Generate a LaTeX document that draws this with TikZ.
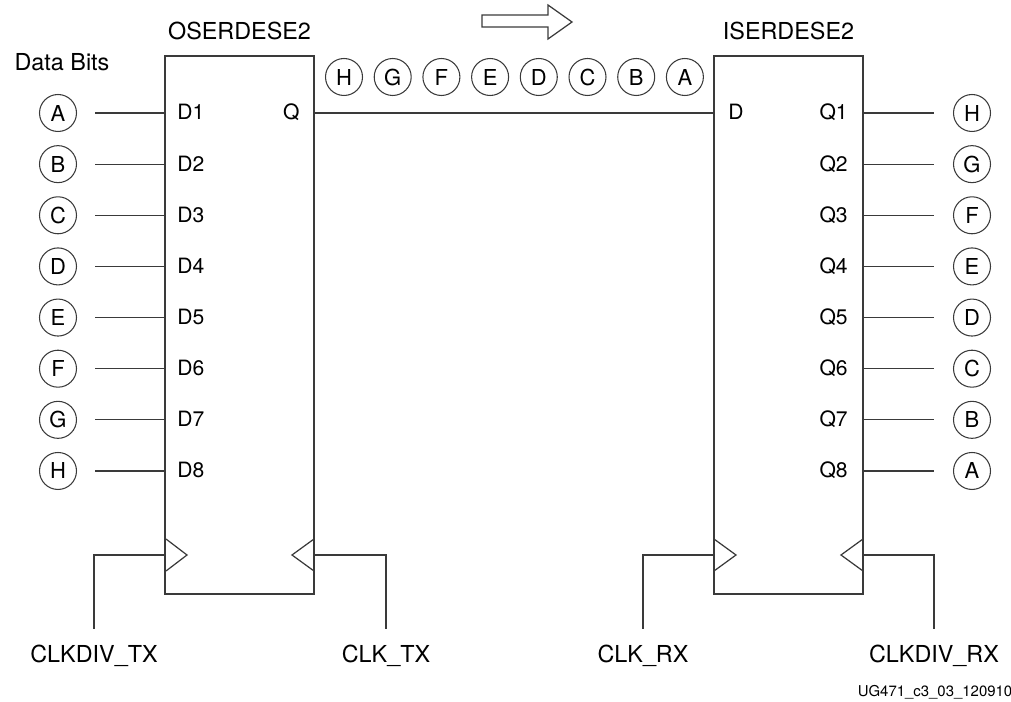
\documentclass[tikz,border=0pt]{standalone}
\usepackage{fontspec}
\setmainfont{TeX Gyre Heros}
\usetikzlibrary{positioning}
\definecolor{wiregray}{HTML}{3A3A3A}
\newcommand{\pinfont}{\fontsize{12}{14}\selectfont}

\begin{document}
\begin{tikzpicture}[
    x=0.02cm, y=-0.02cm,
    blk/.style={draw=wiregray,line width=1.6pt,minimum width=2.98cm,minimum height=10.76cm,inner sep=0pt},
    bit/.style={circle,draw=wiregray,line width=0.6pt,minimum size=0.74cm,inner sep=0pt,font=\fontsize{12.5}{14}\selectfont},
    pin/.style={inner sep=0pt,font=\pinfont},
    title/.style={inner sep=0pt,font=\fontsize{13.3}{16}\selectfont},
    wire/.style={draw=wiregray,line width=0.7pt},
    clkpin/.style={draw=wiregray,line width=0.7pt,line join=miter}
  ]
    \useasboundingbox (0,0) rectangle (1011,702);
    % serializer and deserializer blocks
    \node[blk] (oser) at (239.5,325) {};
    \node[blk] (iser) at (788.5,325) {};
    \node[title,above=0.28cm of oser] (osertitle) {OSERDESE2};
    \node[title,above=0.28cm of iser] (isertitle) {ISERDESE2};
    \node[title] (databits) at (62,62) {Data Bits};
    % parallel inputs
    \foreach \b [count=\i] in {A,B,C,D,E,F,G,H} {
      \pgfmathsetmacro\yy{113+51.14*(\i-1)}
      \node[bit] (tx\b) at (58,{\yy}) {\b};
      \coordinate (txw\i) at (95,{\yy});
      \draw[wire] (txw\i) -- (oser.west |- txw\i);
      \node[pin,anchor=base west] (d\i) at (177,{\yy+7}) {D\i};
    }
    % parallel outputs
    \foreach \b [count=\i] in {H,G,F,E,D,C,B,A} {
      \pgfmathsetmacro\yy{113+51.14*(\i-1)}
      \node[bit] (rx\b) at (972,{\yy}) {\b};
      \coordinate (rxw\i) at (934,{\yy});
      \draw[wire] (iser.east |- rxw\i) -- (rxw\i);
      \node[pin,anchor=base east] (q\i) at (848,{\yy+7}) {Q\i};
    }
    % serial link
    \node[pin,anchor=base east] (qout) at (300,120) {Q};
    \node[pin,anchor=base west] (din) at (728,120) {D};
    \draw[wire] (oser.east |- txA) -- (iser.west |- txA);
    \foreach \b [count=\i] in {H,G,F,E,D,C,B,A}
      \node[bit] (sb\b) at ({344+48.7*(\i-1)},77) {\b};
    \draw[wire] (482,15) -- (548,15) -- (548,5) -- (572,22) -- (548,39) -- (548,27) -- (482,27) -- cycle;
    % clock pins
    \draw[clkpin] (166,539) -- (187,555) -- (166,571);
    \draw[clkpin] (314,539) -- (292,555) -- (314,571);
    \draw[clkpin] (714,539) -- (736,555) -- (714,571);
    \draw[clkpin] (863,539) -- (841,555) -- (863,571);
    \coordinate (ckdtx) at (94,629);
    \coordinate (cktx) at (386,629);
    \coordinate (ckrx) at (643,629);
    \coordinate (ckdrx) at (934,629);
    \draw[wire] (oser.west |- 0,555) -| (ckdtx);
    \draw[wire] (oser.east |- 0,555) -| (cktx);
    \draw[wire] (iser.west |- 0,555) -| (ckrx);
    \draw[wire] (iser.east |- 0,555) -| (ckdrx);
    \node[title,anchor=base] (lckdtx) at (94,662) {CLKDIV\_TX};
    \node[title,anchor=base] (lcktx) at (386,662) {CLK\_TX};
    \node[title,anchor=base] (lckrx) at (643,662) {CLK\_RX};
    \node[title,anchor=base] (lckdrx) at (934,662) {CLKDIV\_RX};
    \node[inner sep=0pt,anchor=base,font=\fontsize{8.5}{10}\selectfont] (figid) at (935,696) {UG471\_c3\_03\_120910};
  \end{tikzpicture}
\end{document}
